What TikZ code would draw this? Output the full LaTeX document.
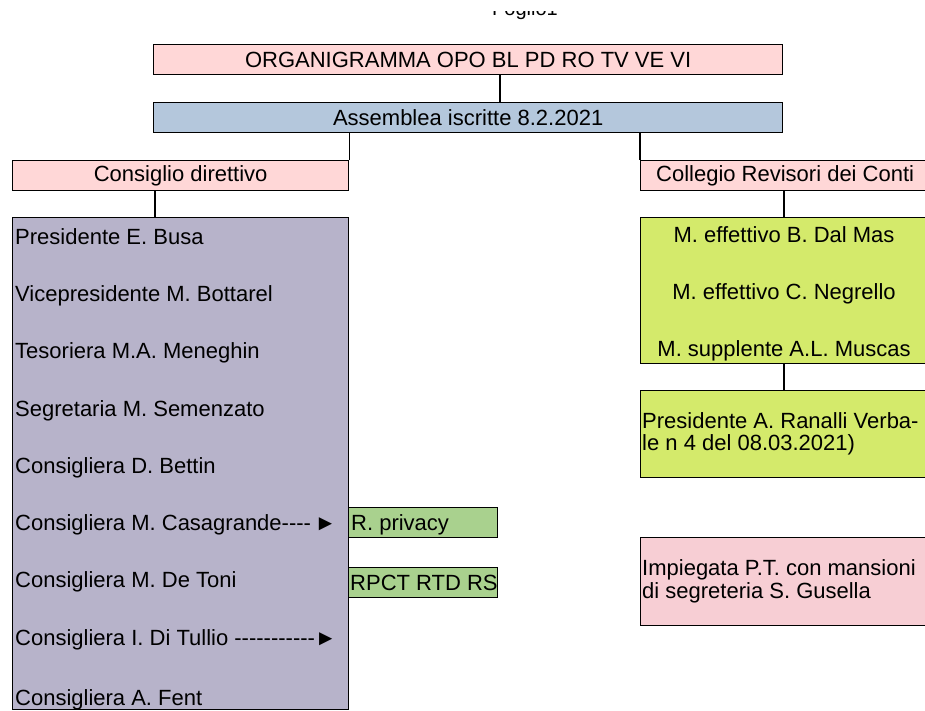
\documentclass[tikz,border=0pt]{standalone}
\usepackage{fontspec}
\setmainfont{Liberation Sans}
\definecolor{pinkA}{HTML}{FFD7D7}
\definecolor{pinkB}{HTML}{F7CED4}
\definecolor{blueA}{HTML}{B4C7DC}
\definecolor{purp}{HTML}{B7B3CA}
\definecolor{lime}{HTML}{D4EA6B}
\definecolor{greenA}{HTML}{A9D18E}
\newcommand{\hy}{-{}}
\begin{document}
\begin{tikzpicture}[x=1pt,y=-1pt,
  font=\fontsize{22}{26}\selectfont,
  box/.style={draw=black, line width=1.3pt, inner sep=0pt, anchor=north west},
  txt/.style={inner sep=0pt, anchor=base west},
  link/.style={draw=black, line width=1.3pt}]
\useasboundingbox (0,0) rectangle (925,711);
% partially visible sheet title
\begin{scope}
  \clip (0,12) rectangle (925,30);
  \node[inner sep=0pt, anchor=base, font=\fontsize{20}{20}\selectfont] (sheet) at (525,16) {Foglio1};
\end{scope}
% top boxes
\node[box, fill=pinkA, minimum width=629pt, minimum height=30pt] (org) at (153,44) {ORGANIGRAMMA OPO BL PD RO TV VE VI};
\node[box, fill=blueA, minimum width=629pt, minimum height=30pt] (ass) at (153,102) {Assemblea iscritte 8.2.2021};
\node[box, fill=pinkA, minimum width=336pt, minimum height=30pt] (cons) at (12,160) {Consiglio direttivo};
\node[box, fill=pinkA, minimum width=295pt, minimum height=30pt, inner xsep=0pt] (coll) at (640,160) {\hspace*{-6pt}Collegio Revisori dei Conti};
% connectors
\coordinate (orgb) at (500,74);
\draw[link] (org.south -| orgb) -- (ass.north -| orgb);
\draw[link] (ass.south -| cons.north east) -- (cons.north east);
\draw[link] (ass.south -| coll.north west) -- (coll.north west);
% consiglio direttivo members
\node[box, fill=purp, minimum width=336pt, minimum height=492pt] (cd) at (12,217) {};
\draw[link] (cons.south -| 155,0) -- (cd.north -| 155,0);
\node[txt] (m1) at (15,244) {Presidente E. Busa};
\node[txt] (m2) at (15,301) {Vicepresidente M. Bottarel};
\node[txt] (m3) at (15,358) {Tesoriera M.A. Meneghin};
\node[txt] (m4) at (15,416) {Segretaria M. Semenzato};
\node[txt] (m5) at (15,473) {Consigliera D. Bettin};
\node[txt] (m6) at (15,530) {Consigliera M. Casagrande\hy\hy\hy\hy\,►};
\node[txt] (m7) at (15,587) {Consigliera M. De Toni};
\node[txt] (m8) at (15,645) {Consigliera I. Di Tullio \hy\hy\hy\hy\hy\hy\hy\hy\hy\hy\hy►};
\node[txt] (m9) at (15,705) {Consigliera A. Fent};
% side roles
\node[box, fill=greenA, minimum width=149pt, minimum height=30pt] (priv) at (348,507) {};
\node[txt] (privt) at (351,530) {R. privacy};
\node[box, fill=greenA, minimum width=149pt, minimum height=30pt] (rpct) at (348,567) {};
\node[txt] (rpctt) at (350,590) {RPCT RTD RS};
% revisori
\node[box, fill=lime, minimum width=295pt, minimum height=146pt] (rev) at (640,217) {};
\draw[link] (coll.south -| 784,0) -- (rev.north -| 784,0);
\node[inner sep=0pt, anchor=base] (r1) at (784,242) {M. effettivo B. Dal Mas};
\node[inner sep=0pt, anchor=base] (r2) at (784,299) {M. effettivo C. Negrello};
\node[inner sep=0pt, anchor=base] (r3) at (784,356) {M. supplente A.L. Muscas};
\node[box, fill=lime, minimum width=295pt, minimum height=87pt] (pres) at (640,390) {};
\draw[link] (rev.south -| 784,0) -- (pres.north -| 784,0);
\node[txt] (p1) at (642,428) {Presidente A. Ranalli Verba-};
\node[txt] (p2) at (642,450) {le n 4 del 08.03.2021)};
% impiegata
\node[box, fill=pinkB, minimum width=295pt, minimum height=88pt] (imp) at (640,537) {};
\node[txt] (i1) at (642,575) {Impiegata P.T. con mansioni};
\node[txt] (i2) at (642,598) {di segreteria S. Gusella};
\end{tikzpicture}
\end{document}
